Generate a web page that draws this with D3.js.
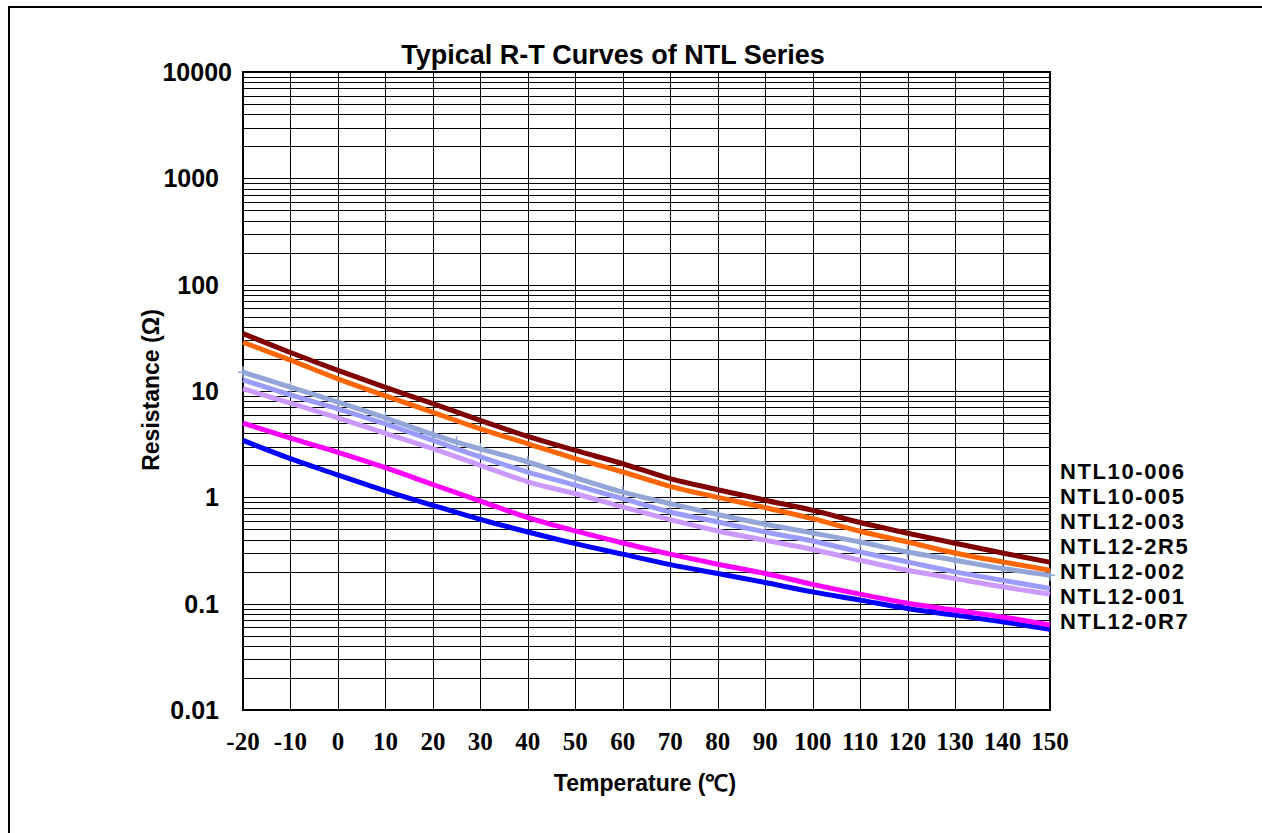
<!DOCTYPE html>
<html>
<head>
<meta charset="utf-8">
<script src="https://cdn.jsdelivr.net/npm/d3@7"></script>
<style>
  html, body { margin: 0; padding: 0; background: #fff; }
  svg { display: block; }
  .sans { font-family: "Liberation Sans", Arial, sans-serif; font-weight: bold; }
  .serif { font-family: "Liberation Serif", "Times New Roman", serif; font-weight: bold; }
</style>
</head>
<body>
<svg id="chart" width="1262" height="833"></svg>
<script>
// ---- data ----
const title = "Typical R-T Curves of NTL Series";
const xTitle = "Temperature (℃)";
const yTitle = "Resistance (Ω)";
const temps = [-20, -10, 0, 10, 20, 30, 40, 50, 60, 70, 80, 90, 100, 110, 120, 130, 140, 150];
const xTickLabels = [-20, -10, 0, 10, 20, 30, 40, 50, 60, 70, 80, 90, 100, 110, 120, 130, 140, 150];
const yTickValues = [0.01, 0.1, 1, 10, 100, 1000, 10000];
const yTickLabels = ["0.01", "0.1", "1", "10", "100", "1000", "10000"];

const seriesNames = ["NTL10-006", "NTL10-005", "NTL12-003", "NTL12-2R5", "NTL12-002", "NTL12-001", "NTL12-0R7"];
const seriesColors = ["#800000", "#FF6600", "#94A6D8", "#9C9CFF", "#CC99FF", "#FF00FF", "#0000FF"];

const ntl10_006 = [34.7, 23.0, 15.6, 10.8, 7.6, 5.3, 3.74, 2.76, 2.07, 1.50, 1.18, 0.94, 0.755, 0.58, 0.46, 0.37, 0.30, 0.245];
const ntl10_005 = [28.7, 19.5, 13.0, 9.0, 6.3, 4.4, 3.19, 2.31, 1.73, 1.27, 1.0, 0.80, 0.63, 0.48, 0.38, 0.30, 0.247, 0.206];
const ntl12_003 = [15.0, 10.9, 7.85, 5.6, 3.9, 2.85, 2.15, 1.53, 1.12, 0.873, 0.69, 0.558, 0.462, 0.38, 0.306, 0.256, 0.214, 0.185];
const ntl12_2r5 = [12.7, 9.2, 6.8, 4.9, 3.43, 2.4, 1.73, 1.30, 0.972, 0.728, 0.586, 0.472, 0.389, 0.306, 0.247, 0.199, 0.166, 0.139];
const ntl12_002 = [10.5, 7.7, 5.6, 4.0, 2.87, 2.0, 1.40, 1.08, 0.811, 0.617, 0.483, 0.395, 0.323, 0.256, 0.206, 0.172, 0.144, 0.123];
const ntl12_001 = [4.99, 3.6, 2.65, 1.9, 1.32, 0.92, 0.645, 0.483, 0.372, 0.292, 0.235, 0.192, 0.152, 0.123, 0.101, 0.087, 0.075, 0.063];
const ntl12_0r7 = [3.43, 2.31, 1.62, 1.15, 0.84, 0.62, 0.472, 0.367, 0.292, 0.233, 0.192, 0.158, 0.129, 0.108, 0.090, 0.078, 0.0675, 0.0573];
// NTL12-003 is drawn with point markers (extra 25 °C point)
const markerTemps = [-20, -10, 0, 10, 20, 25, 30, 40, 50, 60, 70, 80, 90, 100, 110, 120, 130, 140, 150];
const markerVals  = [15.0, 10.9, 7.85, 5.6, 3.9, 3.3, 2.85, 2.15, 1.53, 1.12, 0.873, 0.69, 0.558, 0.462, 0.38, 0.306, 0.256, 0.214, 0.185];

const seriesValues = [ntl10_006, ntl10_005, ntl12_003, ntl12_2r5, ntl12_002, ntl12_001, ntl12_0r7];

// ---- layout ----
const svg = d3.select("#chart");
const L = 243, R = 1050, T = 72, B = 710;
const x = d3.scaleLinear().domain([-20, 150]).range([L, R]);
const y = d3.scaleLog().domain([0.01, 10000]).range([B, T]);

// outer border
svg.append("rect").attr("x", 9).attr("y", 7).attr("width", 1400).attr("height", 1000)
  .attr("fill", "none").attr("stroke", "#000").attr("stroke-width", 2);

// horizontal grid (log minor lines)
const grid = svg.append("g");
grid.selectAll("line.h").data(y.ticks()).enter().append("line")
  .attr("x1", L).attr("x2", R)
  .attr("y1", d => Math.round(y(d)) + 0.5).attr("y2", d => Math.round(y(d)) + 0.5)
  .attr("stroke", "#000").attr("stroke-width", 1);
// vertical grid
grid.selectAll("line.v").data(xTickLabels).enter().append("line")
  .attr("y1", T).attr("y2", B)
  .attr("x1", d => Math.round(x(d)) + 0.5).attr("x2", d => Math.round(x(d)) + 0.5)
  .attr("stroke", "#000").attr("stroke-width", 1);

// plot frame
svg.append("rect").attr("x", L).attr("y", T).attr("width", R - L).attr("height", B - T)
  .attr("fill", "none").attr("stroke", "#000").attr("stroke-width", 2);

// curves
const line = d3.line().x(d => x(d[0])).y(d => y(d[1])).curve(d3.curveMonotoneX);
const order = [6, 5, 4, 3, 2, 1, 0];
order.forEach(i => {
  const pts = (i === 2) ? markerTemps.map((t, k) => [t, markerVals[k]])
                        : temps.map((t, k) => [t, seriesValues[i][k]]);
  svg.append("path").datum(pts).attr("d", line)
    .attr("fill", "none").attr("stroke", seriesColors[i]).attr("stroke-width", 5)
    .attr("stroke-linejoin", "round");
  if (i === 2) {
    svg.append("g").selectAll("path").data(pts).enter().append("path")
      .attr("d", d => `M${x(d[0]) - 5},${y(d[1])}H${x(d[0]) + 5}M${x(d[0])},${y(d[1]) - 6}V${y(d[1]) + 6}`)
      .attr("stroke", seriesColors[i]).attr("stroke-width", 1.5).attr("fill", "none");
  }
});

// y tick labels
svg.append("g").selectAll("text").data(yTickValues).enter().append("text")
  .attr("class", "sans")
  .attr("x", (d, i) => 219 + (yTickLabels[i].length > 4 ? 13 : 0))
  .attr("y", d => y(d))
  .attr("dy", "0.36em")
  .attr("text-anchor", "end")
  .attr("font-size", 25)
  .text((d, i) => yTickLabels[i]);

// x tick labels
svg.append("g").selectAll("text").data(xTickLabels).enter().append("text")
  .attr("class", "serif")
  .attr("x", d => x(d))
  .attr("y", 750)
  .attr("text-anchor", "middle")
  .attr("font-size", 25)
  .text(d => d);

// title
svg.append("text").attr("class", "sans").attr("x", 613).attr("y", 64)
  .attr("text-anchor", "middle").attr("font-size", 27).text(title);

// axis titles
svg.append("text").attr("class", "sans").attr("x", 645).attr("y", 791)
  .attr("text-anchor", "middle").attr("font-size", 23).text(xTitle);
svg.append("text").attr("class", "sans")
  .attr("transform", "translate(159,390) rotate(-90)")
  .attr("text-anchor", "middle").attr("font-size", 23).text(yTitle);

// series labels at right
svg.append("g").selectAll("text").data(seriesNames).enter().append("text")
  .attr("class", "sans")
  .attr("x", 1060)
  .attr("y", (d, i) => 479 + i * 25)
  .attr("font-size", 22)
  .attr("letter-spacing", 1.6)
  .text(d => d);
</script>
</body>
</html>
